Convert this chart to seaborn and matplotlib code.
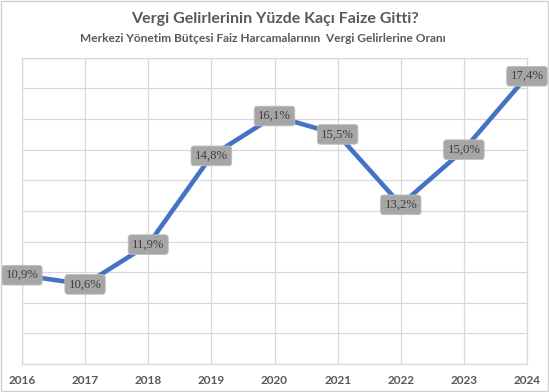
import matplotlib
matplotlib.use("Agg")
import matplotlib.pyplot as plt
import seaborn as sns
import pandas as pd

years = [2016, 2017, 2018, 2019, 2020, 2021, 2022, 2023, 2024]
ratios = [10.9, 10.6, 11.9, 14.8, 16.1, 15.5, 13.2, 15.0, 17.4]
labels = ["10,9%", "10,6%", "11,9%", "14,8%", "16,1%", "15,5%", "13,2%", "15,0%", "17,4%"]
title = "Vergi Gelirlerinin Yüzde Kaçı Faize Gitti?"
subtitle = "Merkezi Yönetim Bütçesi Faiz Harcamalarının  Vergi Gelirlerine Oranı"

df = pd.DataFrame({"Yıl": years, "Oran": ratios})

sns.set_theme(style="white")
plt.rcParams['font.family'] = ['Lato', 'DejaVu Sans']

fig = plt.figure(figsize=(5.49, 3.92), dpi=100)
ax = fig.add_axes([0.040, 0.0714, 0.920, 0.781])

sns.lineplot(data=df, x="Yıl", y="Oran", ax=ax, color="#4472C4", linewidth=3.3,
             solid_joinstyle="round", solid_capstyle="round")

ax.set_xlim(2016, 2024)
ax.set_ylim(8, 18)
ax.set_xticks(years)
ax.set_xticklabels([str(y) for y in years], fontsize=8.5, fontweight="bold", color="#595959")
ax.set_yticks(range(8, 19))
ax.set_yticklabels([])
ax.tick_params(axis="both", length=0, pad=8)
ax.grid(True, color="#D9D9D9", linewidth=0.9)
for s in ax.spines.values():
    s.set_color("#D9D9D9")
    s.set_linewidth(0.9)
ax.set_xlabel("")
ax.set_ylabel("")

for x, y, t in zip(years, ratios, labels):
    ax.text(x, y, t, ha="center", va="center", fontsize=9.2, color="#404040",
            family=["Liberation Serif", "DejaVu Serif"], clip_on=False, zorder=5,
            bbox=dict(boxstyle="round,pad=0.3,rounding_size=0.25", fc="#A6A6A6",
                      ec="#BFBFBF", lw=0.6))

fig.text(0.5, 0.952, title, ha="center", va="center", fontsize=11.5,
         fontweight="bold", color="#595959")
fig.text(0.478, 0.903, subtitle, ha="center", va="center", fontsize=8.6,
         fontweight="bold", color="#595959")

border = plt.Rectangle((0.002, 0.002), 0.996, 0.996, transform=fig.transFigure,
                       fill=False, ec="#D0D0D0", lw=1.0)
fig.patches.append(border)

fig.savefig("out.png", dpi=100)
